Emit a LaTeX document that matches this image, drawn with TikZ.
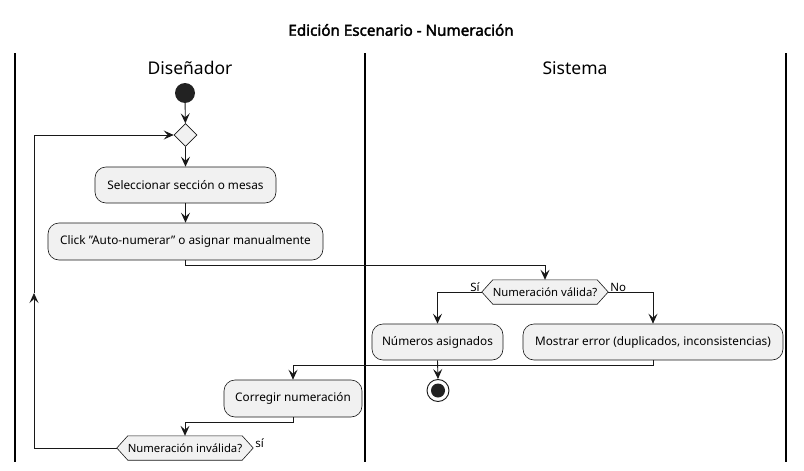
\documentclass[tikz,border=0pt]{standalone}
\usepackage{fontspec}
\setmainfont{Noto Sans}
\newfontfamily\titlefont{Noto Sans}[AutoFakeBold=2.2]
\usetikzlibrary{shapes.geometric,arrows.meta,backgrounds}
\definecolor{boxfill}{HTML}{F1F1F1}
\definecolor{ink}{HTML}{181818}
\definecolor{startc}{HTML}{222222}
\tikzset{
  arr/.style={draw=ink, line width=0.9pt, -{Stealth[length=10pt,width=9pt,inset=4pt]}},
  act/.style={draw=ink, fill=boxfill, rounded corners=11pt, line width=0.6pt, inner sep=0pt, font=\fontsize{11.8}{14}\selectfont},
  hexn/.style={inner sep=0pt, font=\fontsize{11.3}{14}\selectfont},
  hexd/.style={draw=ink, fill=boxfill, line width=0.6pt},
  merge/.style={diamond, draw=ink, fill=boxfill, line width=0.6pt, minimum width=23pt, minimum height=23pt, inner sep=0pt},
  lane/.style={draw=black, line width=1.6pt},
  lbl/.style={font=\fontsize{11.5}{13}\selectfont, inner sep=1pt},
  hdr/.style={font=\fontsize{17.5}{20}\selectfont},
}
\begin{document}
\begin{tikzpicture}[x=1pt,y=-1pt]
\useasboundingbox (0,0) rectangle (804,471);
% title and lanes
\node[font=\titlefont\bfseries\fontsize{15.2}{17}\selectfont] (title) at (401,30) {Edición Escenario - Numeración};
\coordinate (l1t) at (15,53);  \coordinate (l1b) at (15,462);
\coordinate (l2t) at (365,53); \coordinate (l2b) at (365,462);
\coordinate (l3t) at (786,53); \coordinate (l3b) at (786,462);
\draw[lane] (l1t) -- (l1b);
\draw[lane] (l2t) -- (l2b);
\draw[lane] (l3t) -- (l3b);
\node[hdr] (h1) at (190,68) {Diseñador};
\node[hdr] (h2) at (575,68) {Sistema};
% nodes
\node[circle, fill=startc, minimum size=20pt, inner sep=0pt] (start) at (185,93) {};
\node[merge] (dm) at (185.5,135) {};
\node[act, minimum width=181pt, minimum height=36pt] (b1) at (185.5,185) {Seleccionar sección o mesas};
\node[act, minimum width=275pt, minimum height=37pt] (b2) at (185.5,241.5) {Click \symbol{34}Auto-numerar\symbol{34} o asignar manualmente};
\node[hexn, minimum width=126pt, minimum height=24pt] (d1) at (545,292) {Numeración válida?};
\node[act, minimum width=131pt, minimum height=36pt] (n1) at (437.5,342) {Números asignados};
\node[act, minimum width=260pt, minimum height=36pt] (e1) at (653,342) {Mostrar error (duplicados, inconsistencias)};
\node[circle, draw=ink, line width=0.9pt, fill=white, minimum size=22pt, inner sep=0pt] (stop) at (438,390.5) {};
\node[circle, fill=startc, minimum size=14pt, inner sep=0pt] (stopin) at (stop) {};
\node[act, minimum width=138pt, minimum height=37pt] (c1) at (293,398.5) {Corregir numeración};
\node[hexn, minimum width=136pt, minimum height=24pt] (d2) at (185,448) {Numeración inválida?};
\begin{scope}[on background layer]
\foreach \h in {d1,d2}{
  \draw[hexd] (\h.west) -- ([xshift=11pt]\h.north west) -- ([xshift=-11pt]\h.north east) -- (\h.east) -- ([xshift=-11pt]\h.south east) -- ([xshift=11pt]\h.south west) -- cycle;
}
\end{scope}
% connectors
\draw[arr] (start) -- (dm);
\draw[arr] (dm.south) -- (b1.north);
\draw[arr] (b1.south) -- (b2.north);
\draw[arr] (b2.south) -- ++(0,5) -| (d1.north);
\draw[arr] (d1.west) -| (n1.north);
\draw[arr] (d1.east) -| (e1.north);
\node[lbl, anchor=south east] (ls) at ([xshift=-1pt,yshift=-1pt]d1.west) {Sí};
\node[lbl, anchor=south west] (ln) at ([xshift=1pt,yshift=-1pt]d1.east) {No};
\draw[arr] (n1.south) -- (stop.north);
\draw[arr] (e1.south) -- ++(0,5) -| (c1.north);
\draw[arr] (c1.south) -- ++(0,5) -| (d2.north);
\coordinate (lm) at (34,293);
\draw[arr] (d2.west) -| (lm);
\draw[arr] (lm) |- (dm.west);
\node[lbl, anchor=south west] (lsi) at ([xshift=1pt,yshift=-1pt]d2.east) {sí};
\end{tikzpicture}
\end{document}
